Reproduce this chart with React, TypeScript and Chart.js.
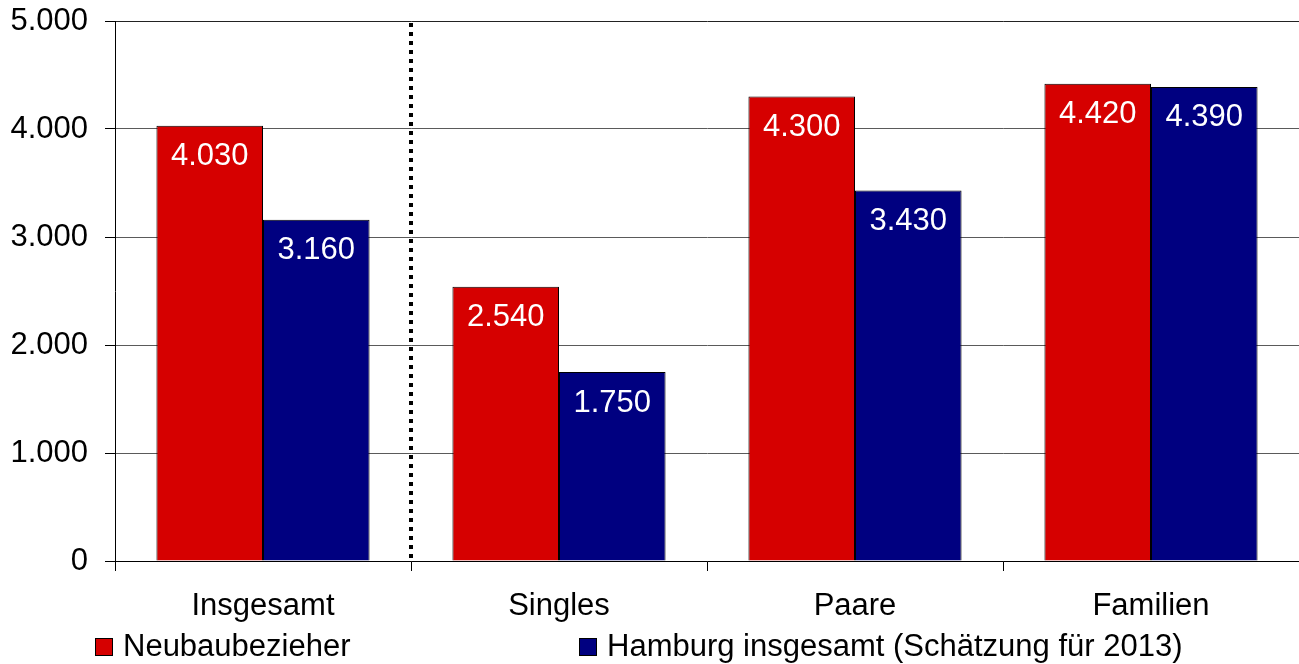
import React, { useEffect, useRef } from 'react';
import { Chart, registerables } from 'chart.js';

Chart.register(...registerables);

const categories = ['Insgesamt', 'Singles', 'Paare', 'Familien'];
const neubauValues = [4030, 2540, 4300, 4420];
const hamburgValues = [3160, 1750, 3430, 4390];
const seriesNames = ['Neubaubezieher', 'Hamburg insgesamt (Schätzung für 2013)'];
const seriesColors = ['#D60000', '#000080'];
const yMin = 0;
const yMax = 5000;
const yStep = 1000;

const FONT = "'Liberation Sans', Arial, sans-serif";
const FS = 31;

const fmt = (v: number) => String(Math.round(v)).replace(/\B(?=(\d{3})+(?!\d))/g, '.');

const valueLabelPlugin = {
  id: 'valueLabels',
  afterDatasetsDraw(chart: any) {
    const ctx = chart.ctx;
    ctx.save();
    ctx.font = `${FS}px ${FONT}`;
    ctx.fillStyle = '#ffffff';
    ctx.textAlign = 'center';
    ctx.textBaseline = 'middle';
    chart.data.datasets.forEach((ds: any, di: number) => {
      const meta = chart.getDatasetMeta(di);
      meta.data.forEach((bar: any, i: number) => {
        ctx.fillText(fmt(ds.data[i]), bar.x, bar.y + 31);
      });
    });
    ctx.restore();
  },
};

const dividerPlugin = {
  id: 'divider',
  afterDraw(chart: any) {
    const xs = chart.scales.x;
    const area = chart.chartArea;
    const x = Math.round((xs.getPixelForValue(0) + xs.getPixelForValue(1)) / 2);
    const ctx = chart.ctx;
    ctx.save();
    ctx.strokeStyle = '#000';
    ctx.lineWidth = 4;
    ctx.setLineDash([4, 5]);
    ctx.beginPath();
    ctx.moveTo(x, area.top + 2);
    ctx.lineTo(x, area.bottom);
    ctx.stroke();
    ctx.restore();
  },
};

const legendPlugin = {
  id: 'customLegend',
  afterDraw(chart: any) {
    const ctx = chart.ctx;
    const positions = [95, 579];
    const yc = 647;
    ctx.save();
    ctx.font = `${FS}px ${FONT}`;
    ctx.textBaseline = 'middle';
    ctx.textAlign = 'left';
    seriesNames.forEach((name, i) => {
      const x = positions[i];
      ctx.fillStyle = seriesColors[i];
      ctx.fillRect(x, yc - 9, 18, 18);
      ctx.strokeStyle = '#000';
      ctx.lineWidth = 1;
      ctx.strokeRect(x + 0.5, yc - 8.5, 17, 17);
      ctx.fillStyle = '#000';
      ctx.fillText(name, x + 28, yc);
    });
    ctx.restore();
  },
};

export default function App() {
  const ref = useRef<HTMLCanvasElement | null>(null);

  useEffect(() => {
    if (!ref.current) return;
    const chart = new Chart(ref.current, {
      type: 'bar',
      data: {
        labels: categories,
        datasets: [
          {
            label: seriesNames[0],
            data: neubauValues,
            backgroundColor: seriesColors[0],
            borderColor: '#000',
            borderWidth: 1,
            categoryPercentage: 0.72,
            barPercentage: 1,
          },
          {
            label: seriesNames[1],
            data: hamburgValues,
            backgroundColor: seriesColors[1],
            borderColor: '#000',
            borderWidth: 1,
            categoryPercentage: 0.72,
            barPercentage: 1,
          },
        ],
      },
      options: {
        animation: false,
        responsive: true,
        maintainAspectRatio: false,
        layout: { padding: { top: 21, left: 0, right: 0, bottom: 0 } },
        plugins: {
          legend: { display: false },
          tooltip: { enabled: false },
        },
        scales: {
          x: {
            offset: true,
            grid: {
              offset: true,
              drawOnChartArea: false,
              drawTicks: true,
              tickLength: 10,
              tickColor: '#000',
            },
            border: { color: '#000', width: 1 },
            ticks: {
              color: '#000',
              font: { family: FONT, size: FS },
              padding: 17,
              maxRotation: 0,
            },
            afterFit: (scale: any) => {
              scale.height = 103;
              scale.paddingLeft = 0;
              scale.paddingRight = 0;
            },
          },
          y: {
            min: yMin,
            max: yMax,
            ticks: {
              stepSize: yStep,
              color: '#000',
              font: { family: FONT, size: FS },
              padding: 17,
              callback: (v: any) => fmt(Number(v)),
            },
            grid: {
              color: (c: any) => (c.tick && c.tick.value === yMax ? '#222' : '#5a5a5a'),
              tickLength: 10,
              tickColor: '#000',
            },
            border: { color: '#000', width: 1 },
            afterFit: (scale: any) => {
              scale.width = 115;
              scale.paddingTop = 0;
              scale.paddingBottom = 0;
            },
          },
        },
      },
      plugins: [valueLabelPlugin, dividerPlugin, legendPlugin],
    });
    return () => chart.destroy();
  }, []);

  return (
    <div style={{ position: 'absolute', left: 0, top: 0, width: 1299, height: 664, background: '#fff' }}>
      <canvas ref={ref} />
    </div>
  );
}
